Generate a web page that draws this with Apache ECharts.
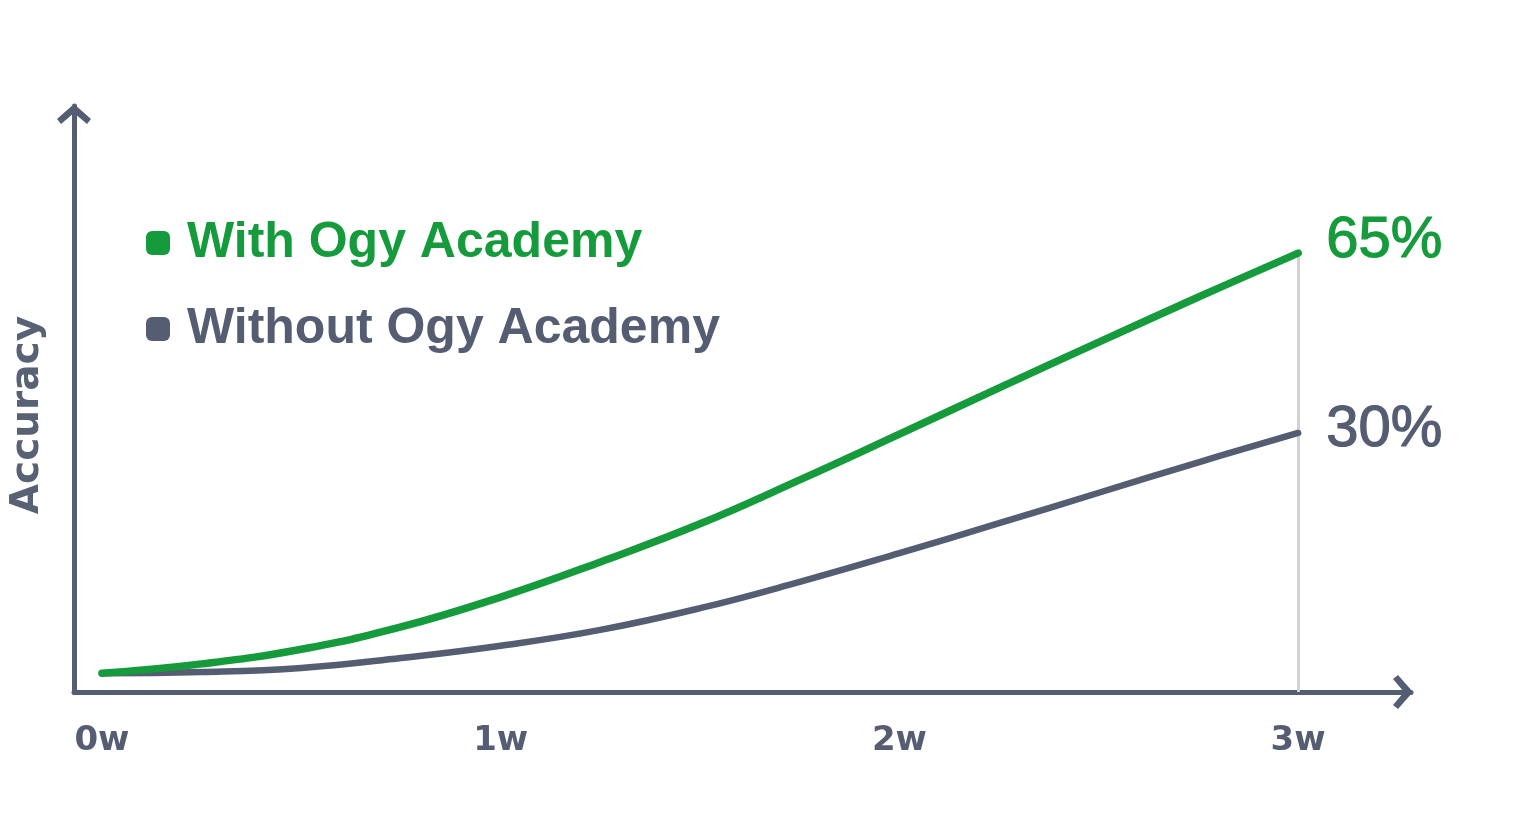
<!DOCTYPE html>
<html>
<head>
<meta charset="utf-8">
<script src="https://cdn.jsdelivr.net/npm/echarts@6/dist/echarts.min.js"></script>
<style>
html,body{margin:0;padding:0;background:#ffffff;}
#chart{width:1536px;height:824px;}
</style>
</head>
<body>
<div id="chart"></div>
<script>
// ---- data ----
const weeks = [0, 0.25, 0.5, 0.75, 1, 1.25, 1.5, 1.75, 2, 2.25, 2.5, 2.75, 3];
const withOgy = [3.2, 4.8, 7.3, 11.1, 16.2, 22.2, 28.7, 36.2, 44.0, 51.9, 59.7, 67.4, 74.9];
const withoutOgy = [3.2, 3.4, 4.1, 5.8, 7.9, 10.6, 14.3, 18.8, 23.7, 28.8, 34.0, 39.2, 44.2];
const seriesNames = ['With Ogy Academy', 'Without Ogy Academy'];
const endLabels = ['65%', '30%'];
const tickValues = [0, 1, 2, 3];
const tickLabels = ['0w', '1w', '2w', '3w'];
const axisName = 'Accuracy';

// ---- styles ----
const GREEN = '#169b3c';
const GRAY = '#555d72';
const AXIS = '#555d73';
const chevron = 'path://M17,0L34,15L30,20L17,9L4,20L0,15Z';

const pairs = (ys) => weeks.map((w, i) => [w, ys[i]]);

const chart = echarts.init(document.getElementById('chart'));
chart.setOption({
  animation: false,
  backgroundColor: '#ffffff',
  grid: { left: 72, right: 125, top: 106, bottom: 132, containLabel: false },
  legend: {
    orient: 'vertical',
    left: 141,
    top: 213,
    itemWidth: 24,
    itemHeight: 24,
    itemGap: 36,
    selectedMode: false,
    data: [
      { name: seriesNames[0], icon: 'roundRect', itemStyle: { color: GREEN },
        textStyle: { color: GREEN } },
      { name: seriesNames[1], icon: 'roundRect', itemStyle: { color: GRAY },
        textStyle: { color: GRAY } }
    ],
    textStyle: {
      fontFamily: 'Liberation Sans',
      fontWeight: 'bold',
      fontSize: 50,
      lineHeight: 50,
      padding: [0, 0, 0, 12]
    }
  },
  xAxis: {
    type: 'value',
    min: -0.0701,
    max: 3.283,
    axisLine: {
      show: true,
      onZero: false,
      symbol: ['none', chevron],
      symbolSize: [34, 20],
      symbolOffset: [0, -8],
      lineStyle: { color: AXIS, width: 5 }
    },
    axisTick: { show: false },
    splitLine: { show: false },
    axisLabel: {
      customValues: tickValues,
      formatter: (v) => tickLabels[tickValues.indexOf(Math.round(v))] || '',
      color: GRAY,
      fontFamily: 'DejaVu Sans',
      fontWeight: 'bold',
      fontSize: 34,
      margin: 32
    }
  },
  yAxis: {
    type: 'value',
    min: 0,
    max: 100,
    name: axisName,
    nameLocation: 'middle',
    nameRotate: 90,
    nameGap: 27,
    nameTextStyle: {
      color: '#596175',
      fontFamily: 'DejaVu Sans',
      fontWeight: 'bold',
      fontSize: 39,
      padding: [0, 32, 0, 0]
    },
    axisLine: {
      show: true,
      onZero: false,
      symbol: ['none', chevron],
      symbolSize: [34, 20],
      symbolOffset: [0, -8],
      lineStyle: { color: AXIS, width: 5 }
    },
    axisTick: { show: false },
    axisLabel: { show: false },
    splitLine: { show: false }
  },
  series: [
    {
      name: seriesNames[0],
      type: 'line',
      data: pairs(withOgy),
      smooth: 0.45,
      showSymbol: false,
      color: GREEN,
      lineStyle: { color: GREEN, width: 7.5, cap: 'round' },
      z: 3,
      endLabel: {
        show: true,
        formatter: () => endLabels[0],
        color: GREEN,
        fontFamily: 'Liberation Sans',
        fontSize: 58,
        textBorderColor: GREEN,
        textBorderWidth: 1.2,
        distance: 28,
        offset: [0, -12]
      },
      markLine: {
        silent: true,
        symbol: ['none', 'none'],
        label: { show: false },
        lineStyle: { color: '#d2d2d2', width: 3, type: 'solid' },
        data: [[
          { coord: [weeks[weeks.length - 1], withOgy[withOgy.length - 1]] },
          { coord: [weeks[weeks.length - 1], 0] }
        ]],
        z: 1
      }
    },
    {
      name: seriesNames[1],
      type: 'line',
      data: pairs(withoutOgy),
      smooth: 0.45,
      showSymbol: false,
      color: GRAY,
      lineStyle: { color: GRAY, width: 6.5, cap: 'round' },
      z: 2,
      endLabel: {
        show: true,
        formatter: () => endLabels[1],
        color: GRAY,
        fontFamily: 'Liberation Sans',
        fontSize: 58,
        textBorderColor: GRAY,
        textBorderWidth: 1.2,
        distance: 28,
        offset: [0, -3]
      }
    }
  ]
});
</script>
</body>
</html>
